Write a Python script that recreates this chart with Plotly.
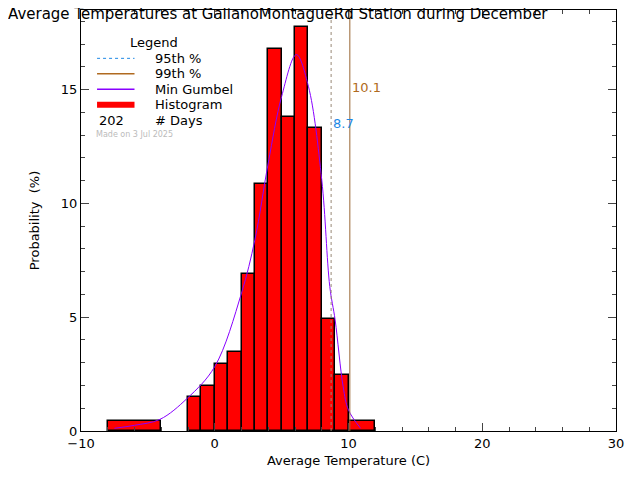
import plotly.graph_objects as go

# histogram bins (left edge, right edge) and probability (%)
bin_left = [-8, -2, -1, 0, 1, 2, 3, 4, 5, 6, 7, 8, 9, 10]
bin_right = [-4, -1, 0, 1, 2, 3, 4, 5, 6, 7, 8, 9, 10, 12]
prob = [0.45, 1.48, 1.97, 2.93, 3.46, 6.89, 10.85, 16.79, 13.8, 17.76, 13.3, 4.91, 2.46, 0.45]

# Min Gumbel fit
gum_x = [-7.5, -6, -4.1, -2.05, 0, 2, 3, 4, 5, 6.1, 7, 8, 8.6, 9, 9.6, 10, 10.9]
gum_y = [0.12, 0.25, 0.51, 1.44, 2.83, 6.06, 8.4, 11.78, 14.7, 16.54, 15.15, 11.04, 6.35, 4.88, 1.95, 0.92, 0.12]

p95, p99, ndays = 8.7, 10.1, 202

centers = [(a + b) / 2 for a, b in zip(bin_left, bin_right)]
widths = [b - a for a, b in zip(bin_left, bin_right)]

fig = go.Figure()
fig.add_trace(go.Bar(x=centers, y=prob, width=widths, marker=dict(color="red", line=dict(color="black", width=1.5)),
                     showlegend=False))
fig.add_trace(go.Scatter(x=gum_x, y=gum_y, mode="lines", line=dict(color="#8800ff", width=1, shape="spline"),
                         showlegend=False))
fig.add_shape(type="line", x0=p95, x1=p95, y0=0, y1=1, yref="paper", line=dict(color="#998877", width=1, dash="dot"))
fig.add_shape(type="line", x0=p99, x1=p99, y0=0, y1=1, yref="paper", line=dict(color="#996633", width=1))
fig.add_annotation(x=p99, y=15.1, text=f"{p99}", showarrow=False, xanchor="left", font=dict(color="#b06a20", size=13))
fig.add_annotation(x=p95, y=13.5, text=f"{p95}", showarrow=False, xanchor="left", font=dict(color="#1e88e5", size=13))

# legend drawn by hand inside the plot
ty = 0.922
step = 15.5 / 421
fig.add_annotation(xref="paper", yref="paper", x=0.088, y=ty, yanchor="middle", text="Legend", showarrow=False,
                   xanchor="left", font=dict(size=13))
items = [("95th %", dict(color="#1e88e5", width=1, dash="dot")),
         ("99th %", dict(color="#b06a20", width=1.5)),
         ("Min Gumbel", dict(color="#8800ff", width=1.5)),
         ("Histogram", dict(color="red", width=6))]
for i, (name, ln) in enumerate(items):
    yy = ty - step * (i + 1)
    fig.add_shape(type="line", xref="paper", yref="paper", x0=0.03, x1=0.1, y0=yy, y1=yy, line=ln)
    fig.add_annotation(xref="paper", yref="paper", x=0.135, y=yy, yanchor="middle", text=name, showarrow=False,
                       xanchor="left", font=dict(size=13))
yy = ty - step * 5
fig.add_annotation(xref="paper", yref="paper", x=0.03, y=yy, yanchor="middle", text=str(ndays), showarrow=False,
                   xanchor="left", font=dict(size=13))
fig.add_annotation(xref="paper", yref="paper", x=0.135, y=yy, yanchor="middle", text="# Days", showarrow=False,
                   xanchor="left", font=dict(size=13))
fig.add_annotation(xref="paper", yref="paper", x=0.025, y=yy - step * 0.9, yanchor="middle", text="Made on 3 Jul 2025",
                   showarrow=False, xanchor="left", font=dict(size=8, color="#bbbbbb"))

fig.update_layout(
    width=640, height=480, plot_bgcolor="white", paper_bgcolor="white", bargap=0,
    margin=dict(l=73, r=32, t=2, b=57, autoexpand=False),
    font=dict(family="DejaVu Sans", size=13, color="black"),
    title=dict(text="Average Temperatures at GalianoMontagueRd Station during December", x=0.0, xanchor="left",
               y=0.999, yanchor="top", font=dict(size=15)),
    xaxis=dict(range=[-10, 30], tickvals=[-10, 0, 10, 20, 30], ticks="inside", ticklen=8, mirror="ticks",
               showline=True, linecolor="black", showgrid=False, zeroline=False, automargin=False,
               minor=dict(dtick=2, ticks="inside", ticklen=4),
               title=dict(text="Average Temperature (C)", standoff=6, font=dict(size=13))),
    yaxis=dict(range=[0, 18.5], tickvals=[0, 5, 10, 15], ticks="inside", ticklen=8, mirror="ticks",
               showline=True, linecolor="black", showgrid=False, zeroline=False, automargin=False,
               minor=dict(dtick=1, ticks="inside", ticklen=4),
               title=dict(text="Probability  (%)", standoff=18, font=dict(size=13))),
)
fig.write_html("out.html")
